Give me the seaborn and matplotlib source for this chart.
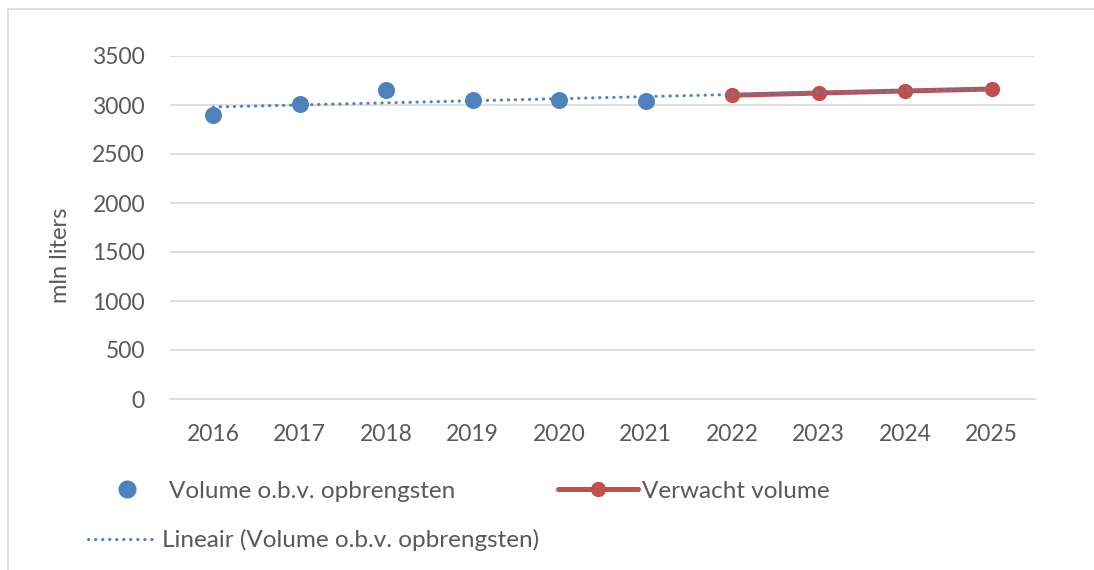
import numpy as np
import matplotlib
matplotlib.use("Agg")
import matplotlib.pyplot as plt
from matplotlib.lines import Line2D
import seaborn as sns

# data
years = [2016, 2017, 2018, 2019, 2020, 2021]
volume = [2895, 3010, 3150, 3050, 3050, 3040]
forecast_years = [2022, 2023, 2024, 2025]
forecast = [3100, 3122, 3143, 3163]
all_years = years + forecast_years
y_ticks = [0, 500, 1000, 1500, 2000, 2500, 3000, 3500]

blue = "#4f81bd"
red = "#c0504d"
grey_text = "#595959"
grid_col = "#d9d9d9"

sns.set_theme(style="white")
plt.rcParams["font.family"] = ["Lato", "DejaVu Sans"]

fig = plt.figure(figsize=(10.94, 5.70), dpi=100)
ax = fig.add_axes([170 / 1094, 1 - 399 / 570, 865 / 1094, 343 / 570])

# linear trend of the observed volume (Excel "Lineair" trendline)
slope, intercept = np.polyfit(years, volume, 1)
trend = [slope * y + intercept for y in all_years]

sns.lineplot(x=forecast_years, y=forecast, ax=ax, color=red, linewidth=3.6,
             marker="o", markersize=11, markeredgewidth=0, zorder=3)
sns.scatterplot(x=years, y=volume, ax=ax, color=blue, s=150, linewidth=0, zorder=4)
ax.plot(all_years, trend, color=blue, linewidth=2.2, linestyle=(0, (0.1, 2.2)),
        dash_capstyle="round", zorder=5)

ax.set_xlim(2015.5, 2025.5)
ax.set_ylim(0, 3500)
ax.set_xticks(all_years)
ax.set_yticks(y_ticks)
ax.yaxis.grid(True, color=grid_col, linewidth=1.2)
ax.set_axisbelow(True)
for s in ["top", "right", "left"]:
    ax.spines[s].set_visible(False)
ax.spines["bottom"].set_color(grid_col)
ax.spines["bottom"].set_linewidth(1.2)
ax.tick_params(axis="both", length=0, labelsize=16.5, colors=grey_text)
ax.tick_params(axis="y", pad=18)
ax.tick_params(axis="x", pad=18)
ax.set_ylabel("mln liters", fontsize=17, color=grey_text)
ax.yaxis.set_label_coords(-0.115, 0.42)

# legend, placed by hand like the Excel one
h_vol = Line2D([], [], color=blue, marker="o", linestyle="none", markersize=12)
h_fc = Line2D([], [], color=red, linewidth=3.6, marker="o", markersize=10)
h_tr = Line2D([], [], color=blue, linewidth=2.2, linestyle=(0, (0.1, 2.2)),
              dash_capstyle="round")

common = dict(frameon=False, fontsize=17.5, borderpad=0, borderaxespad=0,
              labelcolor=grey_text, handletextpad=0.15, loc="center left")
fig.legend([h_vol], ["Volume o.b.v. opbrengsten"], handlelength=3.2,
           bbox_to_anchor=(88 / 1094, 1 - 491 / 570), **common)
fig.legend([h_fc], ["Verwacht volume"], handlelength=3.3,
           bbox_to_anchor=(558 / 1094, 1 - 491 / 570), **common)
fig.legend([h_tr], ["Lineair (Volume o.b.v. opbrengsten)"], handlelength=2.9,
           bbox_to_anchor=(88 / 1094, 1 - 540 / 570), **common)

# chart border (top and left visible)
fig.add_artist(Line2D([8 / 1094, 1], [1 - 9 / 570, 1 - 9 / 570], color=grid_col, linewidth=1.2))
fig.add_artist(Line2D([8 / 1094, 8 / 1094], [0, 1 - 9 / 570], color=grid_col, linewidth=1.2))

fig.savefig("out.png", dpi=100)
